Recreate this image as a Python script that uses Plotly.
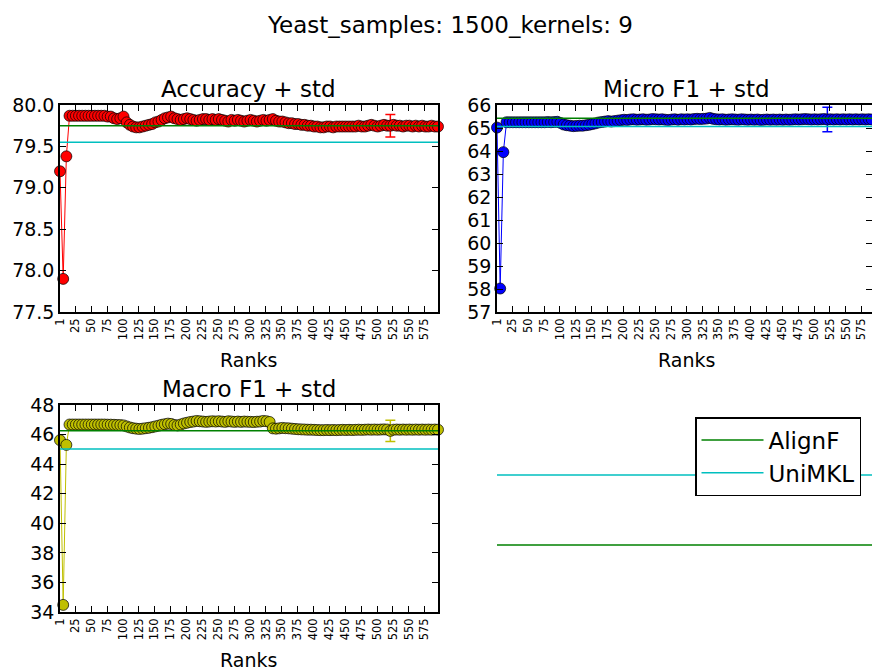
import plotly.graph_objects as go

# ---------------- data ----------------
ranks = list(range(1, 597, 5))  # 1, 6, 11, ..., 596
tick_vals = [1] + list(range(25, 600, 25))
tick_text = [str(v) for v in tick_vals]

accuracy = [
    79.20, 77.90, 79.38, 79.87, 79.87, 79.87, 79.87, 79.87, 79.87, 79.87,
    79.87, 79.87, 79.87, 79.87, 79.87, 79.86, 79.86, 79.84, 79.83, 79.84,
    79.86, 79.79, 79.76, 79.74, 79.73, 79.73, 79.74, 79.75, 79.76, 79.77,
    79.79, 79.80, 79.82, 79.84, 79.85, 79.86, 79.84, 79.83, 79.82, 79.83,
    79.84, 79.83, 79.82, 79.81, 79.82, 79.83, 79.83, 79.82, 79.83, 79.82,
    79.83, 79.82, 79.81, 79.80, 79.82, 79.81, 79.82, 79.81, 79.80, 79.81,
    79.82, 79.81, 79.80, 79.81, 79.82, 79.81, 79.82, 79.83, 79.81, 79.80,
    79.80, 79.79, 79.78, 79.78, 79.77, 79.77, 79.76, 79.76, 79.75, 79.75,
    79.74, 79.74, 79.73, 79.73, 79.74, 79.74, 79.73, 79.74, 79.74, 79.74,
    79.74, 79.74, 79.74, 79.74, 79.75, 79.74, 79.74, 79.75, 79.76, 79.75,
    79.74, 79.75, 79.76, 79.75, 79.75, 79.76, 79.75, 79.75, 79.74, 79.75,
    79.75, 79.74, 79.75, 79.74, 79.75, 79.74, 79.74, 79.75, 79.74, 79.74,
]
micro_f1 = [
    65.02, 58.02, 63.95, 65.25, 65.25, 65.25, 65.25, 65.25, 65.25, 65.25,
    65.25, 65.25, 65.25, 65.25, 65.25, 65.25, 65.26, 65.25, 65.26, 65.27,
    65.22, 65.15, 65.12, 65.10, 65.08, 65.09, 65.10, 65.10, 65.12, 65.14,
    65.17, 65.20, 65.24, 65.26, 65.28, 65.30, 65.28, 65.30, 65.32, 65.34,
    65.36, 65.35, 65.37, 65.38, 65.36, 65.37, 65.38, 65.36, 65.37, 65.39,
    65.38, 65.37, 65.38, 65.36, 65.35, 65.37, 65.38, 65.36, 65.38, 65.37,
    65.38, 65.37, 65.39, 65.40, 65.39, 65.40, 65.41, 65.44, 65.40, 65.38,
    65.37, 65.38, 65.36, 65.37, 65.38, 65.37, 65.36, 65.38, 65.37, 65.36,
    65.37, 65.36, 65.37, 65.35, 65.36, 65.37, 65.36, 65.37, 65.36, 65.37,
    65.36, 65.37, 65.36, 65.37, 65.38, 65.37, 65.38, 65.39, 65.38, 65.37,
    65.38, 65.37, 65.38, 65.39, 65.37, 65.38, 65.37, 65.38, 65.37, 65.38,
    65.37, 65.38, 65.37, 65.38, 65.37, 65.38, 65.37, 65.38, 65.37, 65.38,
]
macro_f1 = [
    45.62, 34.48, 45.30, 46.68, 46.68, 46.68, 46.68, 46.68, 46.68, 46.68,
    46.68, 46.68, 46.68, 46.68, 46.68, 46.67, 46.67, 46.66, 46.65, 46.64,
    46.62, 46.55, 46.48, 46.43, 46.40, 46.38, 46.40, 46.43, 46.46, 46.50,
    46.55, 46.60, 46.66, 46.70, 46.74, 46.72, 46.65, 46.62, 46.68, 46.75,
    46.80, 46.85, 46.88, 46.92, 46.90, 46.88, 46.86, 46.88, 46.90, 46.88,
    46.90, 46.88, 46.86, 46.90, 46.88, 46.86, 46.88, 46.86, 46.88, 46.87,
    46.86, 46.85, 46.87, 46.88, 46.92, 46.90, 46.85, 46.42, 46.40, 46.42,
    46.45, 46.43, 46.42, 46.40, 46.38, 46.36, 46.35, 46.34, 46.33, 46.33,
    46.32, 46.31, 46.30, 46.30, 46.31, 46.30, 46.31, 46.30, 46.31, 46.32,
    46.31, 46.32, 46.31, 46.32, 46.33, 46.32, 46.33, 46.34, 46.33, 46.34,
    46.33, 46.34, 46.35, 46.34, 46.25, 46.33, 46.34, 46.33, 46.34, 46.33,
    46.34, 46.33, 46.34, 46.33, 46.34, 46.33, 46.34, 46.33, 46.34, 46.33,
]
# std only shown at rank 521
std_rank = 521
accuracy_std = 0.135
micro_std = 0.53
macro_std = 0.72

alignf = {"acc": 79.75, "micro": 65.42, "macro": 46.26, "legend": 0.324}
unimkl = {"acc": 79.55, "micro": 65.06, "macro": 45.03, "legend": 0.662}

# ---------------- layout helpers ----------------
W, H = 872, 671
FONT = "DejaVu Sans"


def fx(p):
    return p / W


def fy(p):
    return 1 - p / H


def err_array(std):
    return [std if r == std_rank else float("nan") for r in ranks]


fig = go.Figure()

panels = [
    ("x", "y", accuracy, accuracy_std, "#FF0000", "acc"),
    ("x2", "y2", micro_f1, micro_std, "#0000FF", "micro"),
    ("x3", "y3", macro_f1, macro_std, "#BFBF00", "macro"),
]
for xa, ya, vals, std, col, key in panels:
    fig.add_trace(go.Scatter(
        x=ranks, y=vals, xaxis=xa, yaxis=ya, mode="lines+markers",
        line=dict(color=col, width=1),
        marker=dict(color=col, size=11, line=dict(color="black", width=0.7)),
        error_y=dict(type="data", array=err_array(std), color=col,
                     thickness=1.5, width=5, visible=True),
        showlegend=False, cliponaxis=False,
    ))
    fig.add_trace(go.Scatter(
        x=[ranks[0], ranks[-1]], y=[alignf[key]] * 2, xaxis=xa, yaxis=ya,
        mode="lines", line=dict(color="#008000", width=1.5), showlegend=False,
    ))
    fig.add_trace(go.Scatter(
        x=[ranks[0], ranks[-1]], y=[unimkl[key]] * 2, xaxis=xa, yaxis=ya,
        mode="lines", line=dict(color="#00BFBF", width=1.5), showlegend=False,
    ))

# legend panel (hidden axes)
fig.add_trace(go.Scatter(
    x=[ranks[0], ranks[-1]], y=[alignf["legend"]] * 2, xaxis="x4", yaxis="y4",
    mode="lines", line=dict(color="#008000", width=1.5), name="AlignF",
))
fig.add_trace(go.Scatter(
    x=[ranks[0], ranks[-1]], y=[unimkl["legend"]] * 2, xaxis="x4", yaxis="y4",
    mode="lines", line=dict(color="#00BFBF", width=1.5), name="UniMKL",
))

left_dom = [fx(60), fx(438)]
right_dom = [fx(497), 1.0]
top_dom = [fy(312), fy(105)]
bot_dom = [fy(612), fy(405)]

scale = (438 - 60) / (596 - 1)
right_max = 1 + (872 - 497) / scale

axis_common = dict(
    showline=True, linecolor="black", linewidth=1.5, mirror="allticks",
    ticks="inside", ticklen=6, tickwidth=1, tickcolor="black",
    showgrid=False, zeroline=False, automargin=False,
)
xcommon = dict(axis_common, tickvals=tick_vals, ticktext=tick_text,
               tickangle=-90, tickfont=dict(family=FONT, size=11.5, color="black"))
ycommon = dict(axis_common, tickfont=dict(family=FONT, size=19, color="black"))

fig.update_layout(
    template="none",
    width=W, height=H, autosize=False,
    margin=dict(l=0, r=0, t=0, b=0, pad=0, autoexpand=False),
    paper_bgcolor="white", plot_bgcolor="white",
    font=dict(family=FONT, color="black"),
    xaxis=dict(xcommon, domain=left_dom, range=[1, 596], anchor="y"),
    yaxis=dict(ycommon, domain=top_dom, range=[77.5, 80.0], dtick=0.5,
               tickformat=".1f", anchor="x"),
    xaxis2=dict(xcommon, domain=right_dom, range=[1, right_max], anchor="y2"),
    yaxis2=dict(ycommon, domain=top_dom, range=[57, 66], dtick=1, anchor="x2"),
    xaxis3=dict(xcommon, domain=left_dom, range=[1, 596], anchor="y3"),
    yaxis3=dict(ycommon, domain=bot_dom, range=[34, 48], dtick=2, anchor="x3"),
    xaxis4=dict(domain=right_dom, range=[1, right_max], visible=False,
                anchor="y4", automargin=False),
    yaxis4=dict(domain=bot_dom, range=[0, 1], visible=False, anchor="x4",
                automargin=False),
    legend=dict(
        x=fx(695), y=fy(417), xanchor="left", yanchor="top",
        bgcolor="white", bordercolor="black", borderwidth=1.5,
        font=dict(family=FONT, size=23, color="black"),
        itemwidth=62, tracegroupgap=0,
    ),
    showlegend=True,
)

annos = [
    ("Yeast_samples: 1500_kernels: 9", 450, 25, 23),
    ("Accuracy + std", 249, 89, 23),
    ("Micro F1 + std", 686, 89, 23),
    ("Macro F1 + std", 249, 389, 23),
    ("Ranks", 249, 360, 19),
    ("Ranks", 686, 360, 19),
    ("Ranks", 249, 660, 19),
]
for text, px, py, size in annos:
    fig.add_annotation(
        text=text, x=fx(px), y=fy(py), xref="paper", yref="paper",
        xanchor="center", yanchor="middle", showarrow=False,
        font=dict(family=FONT, size=size, color="black"),
    )

fig.write_html("out.html", config={"responsive": False})
